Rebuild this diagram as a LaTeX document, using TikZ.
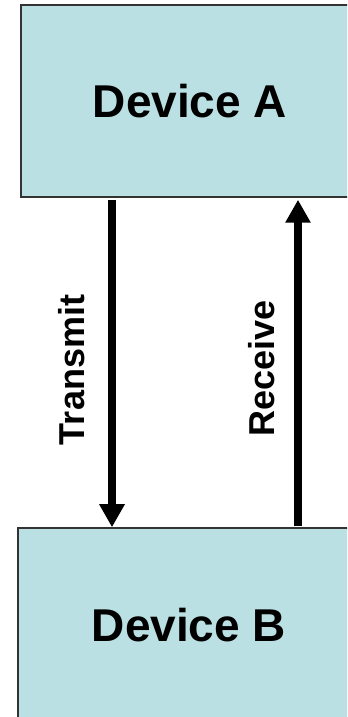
\documentclass[tikz,border=0pt]{standalone}
\usepackage{fontspec}
\setmainfont{Liberation Sans}
\usetikzlibrary{arrows.meta}

\definecolor{devfill}{HTML}{BBE0E3}

\begin{document}
\begin{tikzpicture}[x=1bp, y=1bp,
    device/.style={draw=black!80, line width=1.5bp, fill=devfill,
        font=\fontsize{46bp}{50bp}\selectfont\bfseries},
    signal/.style={line width=7.5bp, -{Triangle[width=24bp, length=23bp]}},
    sigtext/.style={rotate=90, font=\fontsize{36bp}{40bp}\selectfont\bfseries}]
    \useasboundingbox (0,0) rectangle (347,717);
    \clip (0,0) rectangle (347,717);

    % --- Geraete ---
    \node[device, minimum width=338bp, minimum height=192bp] (devA) at (190,616) {Device A};
    \node[device, minimum width=342bp, minimum height=194bp] (devB) at (189,92) {Device B};

    % --- Leitungen ---
    \coordinate (tx) at (112,0);
    \coordinate (rx) at (298,0);
    % Senden (nach unten)
    \draw[signal] ([yshift=-2bp]devA.south -| tx) -- (devB.north -| tx);
    % Empfangen (nach oben)
    \draw[signal] ([yshift=1bp]devB.north -| rx) -- ([yshift=-2bp]devA.south -| rx);

    % Beschriftungen
    \node[sigtext] (txlabel) at (71.5,347) {Transmit};
    \node[sigtext] (rxlabel) at (262,348.5) {Receive};
\end{tikzpicture}
\end{document}
